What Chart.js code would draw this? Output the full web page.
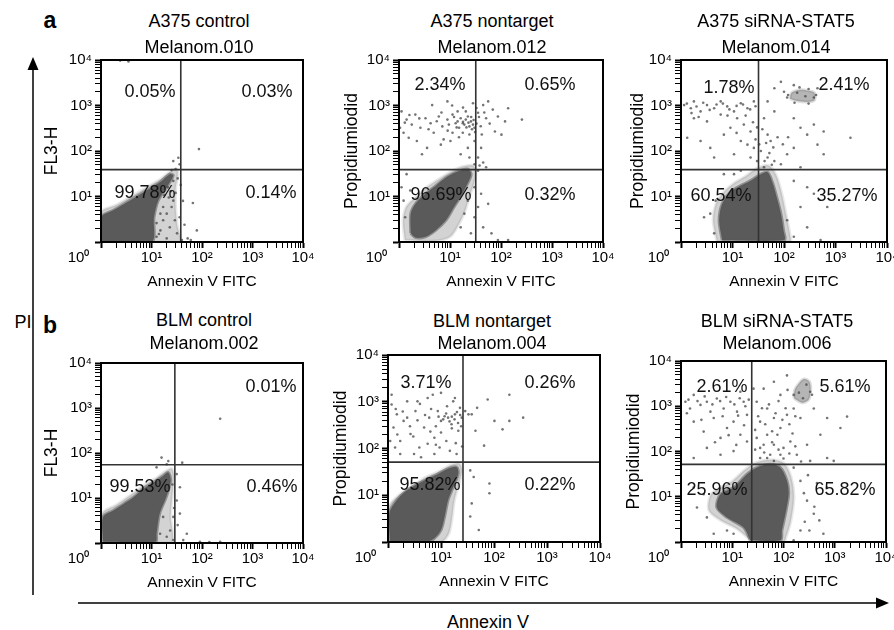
<!DOCTYPE html>
<html>
<head>
<meta charset="utf-8">
<script src="https://cdn.jsdelivr.net/npm/chart.js@4.4.1/dist/chart.umd.min.js"></script>
<style>
  html, body { margin: 0; padding: 0; background: #fff; overflow: hidden; }
  #stage { position: relative; width: 894px; height: 630px; font-family: "Liberation Sans", Arial, sans-serif; color: #000; }
  #stage canvas { position: absolute; }
  #stage svg { position: absolute; left: 0; top: 0; }
  .txt { position: absolute; transform: translate(-50%, -50%); white-space: nowrap; font-size: 18px; }
  .big { font-weight: bold; font-size: 23px; }
</style>
</head>
<body>
<div id="stage">
  <svg width="894" height="630">
    <line x1="33" y1="66" x2="33" y2="595" stroke="#000" stroke-width="1.5"/>
    <polygon points="33,57 27.5,70 38.5,70" fill="#000"/>
    <line x1="78" y1="603" x2="880" y2="603" stroke="#000" stroke-width="1.5"/>
    <polygon points="889,603 876,597.5 876,608.5" fill="#000"/>
  </svg>
</div>
<script>
// axis ticks (log decades plus minor ticks)
const majorTicks = [1, 10, 100, 1000, 10000];
const tickLabels = ["10⁰", "10¹", "10²", "10³", "10⁴"];
const minorTicks = [2, 3, 4, 5, 6, 7, 8, 9, 20, 30, 40, 50, 60, 70, 80, 90,
  200, 300, 400, 500, 600, 700, 800, 900, 2000, 3000, 4000, 5000, 6000, 7000, 8000, 9000];

const panelTitles = ["A375 control", "A375 nontarget", "A375 siRNA-STAT5",
  "BLM control", "BLM nontarget", "BLM siRNA-STAT5"];
const panelRuns = ["Melanom.010", "Melanom.012", "Melanom.014",
  "Melanom.002", "Melanom.004", "Melanom.006"];
const yTitles = ["FL3-H", "Propidiumiodid", "Propidiumiodid",
  "FL3-H", "Propidiumiodid", "Propidiumiodid"];
const xTitle = "Annexin V FITC";

// quadrant gates (Annexin V, PI)
const xGates = [38, 32, 32, 29, 26, 24];
const yGates = [39, 39, 39, 55, 51, 52];

// quadrant percentages: upper-left, upper-right, lower-left, lower-right
const quadrantPct = [
  ["0.05%", "0.03%", "99.78%", "0.14%"],
  ["2.34%", "0.65%", "96.69%", "0.32%"],
  ["1.78%", "2.41%", "60.54%", "35.27%"],
  ["", "0.01%", "99.53%", "0.46%"],
  ["3.71%", "0.26%", "95.82%", "0.22%"],
  ["2.61%", "5.61%", "25.96%", "65.82%"]
];

// dense population outlines [annexin, PI]
const a375CtrlCore = [[1.0,1.0],[1.0,3.5],[1.75,5.0],[3.7,8.1],[8.0,13.5],[14.7,20.5],[23,31],[27,29],[20,16],[13.6,8.2],[11.2,3.5],[10,1.0]];
const a375NtCore = [[1.7,1.55],[1.7,4.2],[2.1,6.9],[3.3,11.5],[5.2,17],[8.3,26],[13,34],[22,40],[26,31],[22,19],[16,9.7],[12,5.9],[8.3,3.0],[5.2,1.8],[3.3,1.3],[2.1,1.25]];
const a375SiCore = [[6.3,1.1],[5.5,3.0],[6.3,6.9],[9.1,12.6],[14.5,17.4],[22,22],[35.5,31],[48,34],[60,20],[72,9.8],[87,4.2],[98,1.8],[100,1.1]];
const blmCtrlCore = [[1.1,1.07],[1.1,3.8],[1.75,5.3],[2.8,7.4],[4.4,10.4],[6.9,16],[11,22],[17,31],[21.5,37],[24,24],[19.5,10.4],[14.5,4.5],[12.6,1.6],[12,1.07]];
const blmNtCore = [[1.1,1.03],[1.06,4.1],[1.47,7.9],[2.3,12.8],[4.2,19],[7.5,26],[13.6,37],[19.7,40],[21.2,29],[17,15],[13.6,7.9],[11.7,3.5],[10,1.8],[7.5,1.2],[5.6,1.03]];
const blmSiCore = [[22.5,1.09],[16.7,2.1],[7.9,3.5],[5.0,5.8],[5.9,11.4],[10.6,16],[19.4,31.5],[30,44],[55,52],[87,44],[117,22.4],[126,11.4],[109,4.2],[93,1.8],[87,1.09]];

// lighter speckled fringe around each dense population
const a375CtrlHalo = [[1,1],[1,4.5],[2,6.5],[4,10],[8,16],[15,24],[24,36],[32,40],[33,28],[30,15],[30,6],[32,2.5],[35,1]];
const a375NtHalo = [[1.3,1.1],[1.2,3],[1.4,6],[2.2,10],[3.5,16],[6,24],[10,34],[17,45],[28,48],[32,35],[30,20],[24,10],[20,5],[15,2.5],[10,1.3],[5,1.05]];
const a375SiHalo = [[5,1],[4.2,3],[4.8,7],[7,13],[11,20],[18,28],[30,42],[50,48],[70,30],[90,12],[110,4],[130,1.5],[130,1]];
const blmCtrlHalo = [[1.05,1],[1.05,4.5],[2,7],[4,12],[7,19],[12,27],[18,38],[25,45],[28,30],[26,12],[24,4],[24,1]];
const blmNtHalo = [[1.05,1],[1.03,5.5],[1.6,10],[3,16],[5,24],[9,32],[15,44],[22,48],[25,35],[22,18],[18,8],[16,3],[14,1.5],[10,1]];
const blmSiHalo = [[25,1],[12,2],[6,3],[3.5,5],[3.8,11],[6,16],[10,22],[17,38],[28,56],[55,66],[100,56],[140,28],[160,10],[140,3],[115,1.4],[100,1]];

// late apoptotic clusters (upper right)
const a375SiLate = [[130,1400],[140,1900],[200,2200],[300,2100],[390,1900],[390,1300],[280,1200],[180,1250]];
const blmSiLate = [[160,1500],[165,2300],[200,3200],[250,4000],[320,3500],[340,2300],[310,1400],[230,1200]];

// individual events outside the dense populations
const a375CtrlDots = [[27,60],[36,51],[34,71],[87,110],[66,7.2],[79,1.8],[52,1.2],[27,8.1],[20,4.2],[23,2.1],[32,1.55],[17,5.9],[15,1.8],[27,22],[21,16],[18,10.7],[25,5.9],[12.6,1.3],[20,1.2],[36,3.5],[2.4,9700],[3.5,9300],[40,1.1],[17,3.0],[29,3.0],[15,4.2],[12.6,2.6],[30,12],[24,13],[33,25],[22,9.5],[14,1.5],[30,40],[25,38],[38,18],[42,8],[45,2.4],[60,1.1]];
const a375NtDots = [[1.12,741],[1.41,490],[1.78,380],[1.23,251],[2.09,631],[2.63,324],[3.31,525],[4.17,407],[4.79,251],[6.03,575],[7.08,347],[8.9,490],[11.2,631],[12.9,407],[15.1,324],[16.2,525],[19.1,380],[22.4,575],[25.7,447],[30.2,324],[35.5,692],[44.7,1020],[51,525],[56,1230],[69,813],[87,575],[120,447],[257,490],[138,871],[2.24,166],[3.55,117],[6.61,138],[10.2,166],[16.2,85],[22.4,117],[4.47,1020],[8.9,1230],[14.1,741],[1.05,324],[1.55,195],[2.82,85],[30.2,166],[40.7,117],[35.5,72],[24,72],[11.2,251],[17.8,251],[20.4,741],[28.2,1120],[76,269],[102,229],[30.2,51],[38,48],[44.7,56],[35.5,37],[51,44],[30.2,16],[40.7,11.5],[35.5,5.9],[56,6.9],[30.2,3.5],[44.7,2.1],[65,1.55],[25.7,1.55],[19.1,4.2],[22.4,8.1],[16.2,2.1],[87,1.1],[138,1.1],[1.23,8.1],[1.12,16],[1.32,3.5],[1.41,31],[1.66,13.5],[17.8,407],[24,347],[14.1,447],[20.4,490],[28.2,380],
  [9.5,380],[12,560],[13.5,330],[18,440],[21,330],[23,420],[26,560],[27,300],[29,480],[31,260],[33,400],[37,560],[40,350],[5.5,450],[3.8,300],[2.5,520],[1.6,620],[1.3,420],[6.8,700],[9,280],[47,700],[60,400],[33,880],[18,900],[11,1000],[24,230],[15,200],[7.5,180],[42,230]];
const a375SiDots = [[1.15,1020],[1.55,871],[1.78,1230],[2.4,741],[3.2,1020],[4.4,871],[5.9,1230],[7.9,955],[10.7,741],[14.5,1120],[19.5,871],[26,1230],[1.78,525],[3.2,447],[5.9,631],[12.3,525],[16.6,380],[9.1,324],[22.4,269],[14.5,166],[19.5,138],[26,117],[10.7,85],[22.4,72],[30,60],[2.4,166],[1.32,195],[3.7,117],[6.8,229],[4.4,72],[87,3311],[65,2400],[48,1230],[65,741],[41,525],[48,229],[55,166],[35.5,100],[48,72],[65,60],[41,44],[155,525],[209,324],[282,229],[380,380],[589,269],[447,138],[589,85],[1950,195],[155,117],[115,85],[87,51],[209,44],[155,22],[282,16],[380,11.5],[692,5.9],[209,5.9],[115,3.0],[282,2.1],[155,1.3],[513,1.1],[4.4,1.55],[3.7,4.2],[4.7,8.1],[2.8,3.5],[6.8,31],[10.7,31],[14.5,37],[100,2000],[115,1500],[380,1500],[447,2400],[155,2800],
  [1.3,1100],[2.0,950],[2.7,1150],[3.6,800],[4.9,1050],[6.5,1100],[8.7,820],[12,980],[16,1050],[22,820],[28,960],[1.6,680],[2.2,560],[8,600],[18,600],[25,430],[30,330],[12,250],[28,180],[33,140],[38,300],[45,150],[52,90],[58,50],[42,60],[62,120],[75,200],[95,140],[120,200],[120,1700],[160,1150],[200,2500],[300,2300],[420,1700],[300,1100],[180,1900],[260,1600]];
const blmCtrlDots = [[15.8,79],[20,56],[40.6,61],[229,575],[36.5,17.3],[31.6,8.8],[27,3.8],[23.4,1.9],[20,1.38],[42.5,1.16],[91,1.07],[229,1.07],[14.8,1.6],[17,3.8],[36.5,4.5],[50,1.6],[27,1.16],[21.5,66],[12.6,48],[31.6,34],[26,20],[28,6],[33,2.5],[140,1.05]];
const blmNtDots = [[1.17,871],[1.47,537],[1.27,282],[1.7,145],[1.97,389],[2.3,1020],[2.66,204],[3.3,631],[3.9,105],[4.8,282],[5.6,1200],[6.0,457],[7.5,170],[8.7,631],[10,389],[11.7,490],[13.6,457],[15.8,331],[17,1020],[18.3,537],[21.2,240],[12.6,145],[14.7,89],[19.7,76],[7.5,76],[4.2,65],[1.7,76],[1.36,105],[2.3,457],[3.6,1020],[7.0,1410],[10,1550],[18.3,1200],[22.8,741],[24.6,457],[28.6,631],[33,537],[1.17,1410],[1.1,145],[3.1,76],[5.6,126],[9.4,105],[38,537],[48,741],[76,1120],[102,389],[145,257],[195,1410],[195,389],[355,457],[65,115],[44.7,240],[82,17.8],[82,11],[35.6,34],[41.4,24.5],[38,6.7],[51.6,1.8],[35.6,3.5],
  [11,420],[12.5,560],[14.5,380],[16,480],[18,420],[20,600],[21,350],[23,520],[9,480],[8,300],[6.5,700],[5,520],[3.6,400],[2.6,300],[1.9,620],[1.4,700],[4,900],[13,800],[16,270],[24,300],[10,220],[6.3,230],[3,180],[1.5,200],[19,130],[25,110],[8,120]];
const blmSiDots = [[1.22,1260],[1.5,890],[1.77,1780],[2.4,1070],[3.2,1260],[3.75,760],[5.0,1480],[6.8,890],[9.2,1260],[12.4,760],[16.7,1260],[19.4,645],[1.77,457],[2.77,275],[4.35,550],[5.9,200],[7.9,331],[10.6,457],[14.4,234],[19.4,166],[10.6,102],[5.9,85],[3.2,120],[1.77,72],[30,1260],[41,2450],[65,3470],[87,1780],[117,4800],[48,890],[65,550],[35,457],[87,331],[117,645],[158,890],[214,550],[390,890],[710,550],[1740,590],[1290,331],[48,234],[35,120],[65,141],[87,85],[136,166],[182,85],[288,141],[525,234],[48,72],[158,44],[214,22.4],[288,8.2],[390,4.2],[710,16],[600,1.52],[214,1.8],[158,1.09],[2.77,11.4],[2.05,5.8],[3.2,3.5],[4.35,1.52],[1.77,16],[10.6,1.52],[7.9,1.8],[331,62],[710,72],[955,62],[14.4,2090],[26,2450],[30,200],[41,141],[55,85],[76,234],[100,120],[35,72],[65,62],[158,1780],[331,2090],
  [1.4,1400],[2.1,1300],[2.9,1650],[4.1,1100],[5.8,1300],[7.6,1600],[11,1100],[14,1500],[18,1000],[21,1400],[1.3,700],[2.5,500],[6.5,600],[13,620],[17,380],[8.5,230],[4.6,160],[12,140],[28,300],[32,600],[38,900],[44,400],[52,1100],[60,280],[70,700],[80,1300],[95,500],[110,900],[130,400],[150,250],[170,600],[240,1500],[200,2000],[280,3000],[360,1800],[120,2300],[28,110],[42,95],[60,160],[80,110],[100,70],[130,90],[170,130],[220,60],[300,30],[450,20],[250,12],[400,6],[500,3],[320,1.8],[260,2.8]];

const panelHalos = [a375CtrlHalo, a375NtHalo, a375SiHalo, blmCtrlHalo, blmNtHalo, blmSiHalo];
const panelCores = [a375CtrlCore, a375NtCore, a375SiCore, blmCtrlCore, blmNtCore, blmSiCore];
const panelLate = [null, null, a375SiLate, null, null, blmSiLate];
const panelDots = [a375CtrlDots, a375NtDots, a375SiDots, blmCtrlDots, blmNtDots, blmSiDots];

// layout: plot box on the page, label spots inside the box
const panelBoxes = [
  { l: 101, t: 58, w: 202, h: 184 },
  { l: 399, t: 58, w: 204, h: 184 },
  { l: 681, t: 58, w: 206, h: 184 },
  { l: 101, t: 361, w: 202, h: 182 },
  { l: 388, t: 353, w: 212, h: 189 },
  { l: 681, t: 359, w: 205, h: 183 }
];
const pctSpots = [
  [[49, 32], [166, 32], [44, 133], [170, 133]],
  [[41, 25], [151, 25], [42, 135], [151, 135]],
  [[48, 28], [163, 25], [40, 136], [166, 136]],
  [[40, 24], [170, 24], [39, 124], [171, 124]],
  [[38, 28], [162, 28], [42, 130], [162, 130]],
  [[41, 26], [164, 26], [36, 129], [164, 129]]
];
const titleSpots = [[199, 21, 47], [492, 21, 47], [776, 21, 47], [204, 320, 343], [492, 321, 343], [777, 321, 343]];
const yTitlePad = [3, 5, 9, 3, 5, 5];

Chart.defaults.font.family = '"Liberation Sans", Arial, sans-serif';
Chart.defaults.color = "#000";

const stage = document.getElementById("stage");

const addText = (text, x, y, cls) => {
  const d = document.createElement("div");
  d.className = "txt" + (cls ? " " + cls : "");
  d.textContent = text;
  d.style.left = x + "px";
  d.style.top = y + "px";
  stage.appendChild(d);
};

addText("a", 50, 20, "big");
addText("b", 50, 325, "big");
addText("PI", 23, 322);
addText("Annexin V", 488, 622);

// box outline, quadrant gates and percentages
const quadrantPlugin = {
  id: "quadrants",
  afterDatasetsDraw(chart, args, opts) {
    const { ctx, chartArea: a, scales } = chart;
    ctx.save();
    const gx = scales.x.getPixelForValue(opts.xGate);
    const gy = scales.y.getPixelForValue(opts.yGate);
    ctx.strokeStyle = "#333";
    ctx.lineWidth = 1.6;
    ctx.beginPath();
    ctx.moveTo(gx, a.top);
    ctx.lineTo(gx, a.bottom);
    ctx.moveTo(a.left, gy);
    ctx.lineTo(a.right, gy);
    ctx.stroke();
    ctx.strokeStyle = "#000";
    ctx.lineWidth = 2;
    ctx.strokeRect(a.left, a.top, a.right - a.left, a.bottom - a.top);
    ctx.fillStyle = "#111";
    ctx.font = '18px "Liberation Sans", Arial, sans-serif';
    ctx.textAlign = "center";
    ctx.textBaseline = "middle";
    opts.labels.forEach((t, k) => {
      if (t) ctx.fillText(t, a.left + opts.spots[k][0], a.top + opts.spots[k][1]);
    });
    ctx.restore();
  }
};

const axisTicks = majorTicks.concat(minorTicks).sort((p, q) => p - q);
const setTicks = (scale) => {
  scale.ticks = axisTicks.map((v) => ({ value: v, major: majorTicks.includes(v) }));
};
const tickWidth = (c) => (c.tick && c.tick.major ? 2 : 1);
const toPts = (arr) => arr.map((p) => ({ x: p[0], y: p[1] }));
const shapeSet = (shape, fillColor, edgeColor, order) => ({
  data: toPts(shape.concat([shape[0]])),
  showLine: true,
  fill: "shape",
  tension: 0.3,
  pointRadius: 0,
  borderWidth: 3,
  borderJoinStyle: "round",
  borderColor: edgeColor,
  backgroundColor: fillColor,
  order
});

const makePanel = (i) => {
  const box = panelBoxes[i];
  const padL = 62, padT = 10, padR = 18, padB = 56;
  const canvas = document.createElement("canvas");
  canvas.width = box.w + padL + padR;
  canvas.height = box.h + padT + padB;
  canvas.style.left = box.l - padL + "px";
  canvas.style.top = box.t - padT + "px";
  stage.appendChild(canvas);

  addText(panelTitles[i], titleSpots[i][0], titleSpots[i][1]);
  addText(panelRuns[i], titleSpots[i][0], titleSpots[i][2]);

  const datasets = [
    shapeSet(panelHalos[i], "rgba(110,110,110,0.3)", "rgba(110,110,110,0.15)", 4),
    shapeSet(panelCores[i], "#5a5a5a", "rgba(90,90,90,0.55)", 3)
  ];
  if (panelLate[i]) datasets.push(shapeSet(panelLate[i], "rgba(90,90,90,0.45)", "rgba(90,90,90,0.2)", 2));
  datasets.push({
    data: toPts(panelDots[i]),
    pointRadius: 1.3,
    pointBorderWidth: 0,
    backgroundColor: "rgba(70,70,70,0.75)",
    order: 1
  });

  new Chart(canvas, {
    type: "scatter",
    data: { datasets },
    options: {
      responsive: false,
      animation: false,
      events: [],
      layout: { padding: { left: 0, top: padT, right: padR, bottom: 0 } },
      plugins: {
        legend: { display: false },
        tooltip: { enabled: false },
        quadrants: { xGate: xGates[i], yGate: yGates[i], labels: quadrantPct[i], spots: pctSpots[i] }
      },
      scales: {
        x: {
          type: "logarithmic",
          min: 1,
          max: 10000,
          afterBuildTicks: setTicks,
          afterFit: (s) => { s.height = padB; },
          border: { color: "#000", width: 2 },
          grid: { drawOnChartArea: false, tickLength: 6, tickColor: "#000", tickWidth },
          ticks: {
            autoSkip: false,
            maxRotation: 0,
            padding: 1,
            font: { size: 15 },
            callback: (v) => {
              const k = majorTicks.indexOf(v);
              if (k < 0) return "";
              return k === 0 ? tickLabels[0] + "\u2002".repeat(6) : tickLabels[k];
            }
          },
          title: { display: true, text: xTitle, font: { size: 15.5 }, padding: { top: 0, bottom: 7 } }
        },
        y: {
          type: "logarithmic",
          min: 1,
          max: 10000,
          afterBuildTicks: setTicks,
          afterFit: (s) => { s.width = padL; },
          border: { color: "#000", width: 2 },
          grid: { drawOnChartArea: false, tickLength: 6, tickColor: "#000", tickWidth },
          ticks: {
            autoSkip: false,
            padding: 3,
            font: { size: 15 },
            callback: (v) => {
              const k = majorTicks.indexOf(v);
              return k > 0 ? tickLabels[k] : "";
            }
          },
          title: { display: true, text: yTitles[i], font: { size: 17.5 }, padding: { top: yTitlePad[i], bottom: 0 } }
        }
      }
    },
    plugins: [quadrantPlugin]
  });
};

for (let i = 0; i < panelBoxes.length; i++) makePanel(i);
</script>
</body>
</html>
